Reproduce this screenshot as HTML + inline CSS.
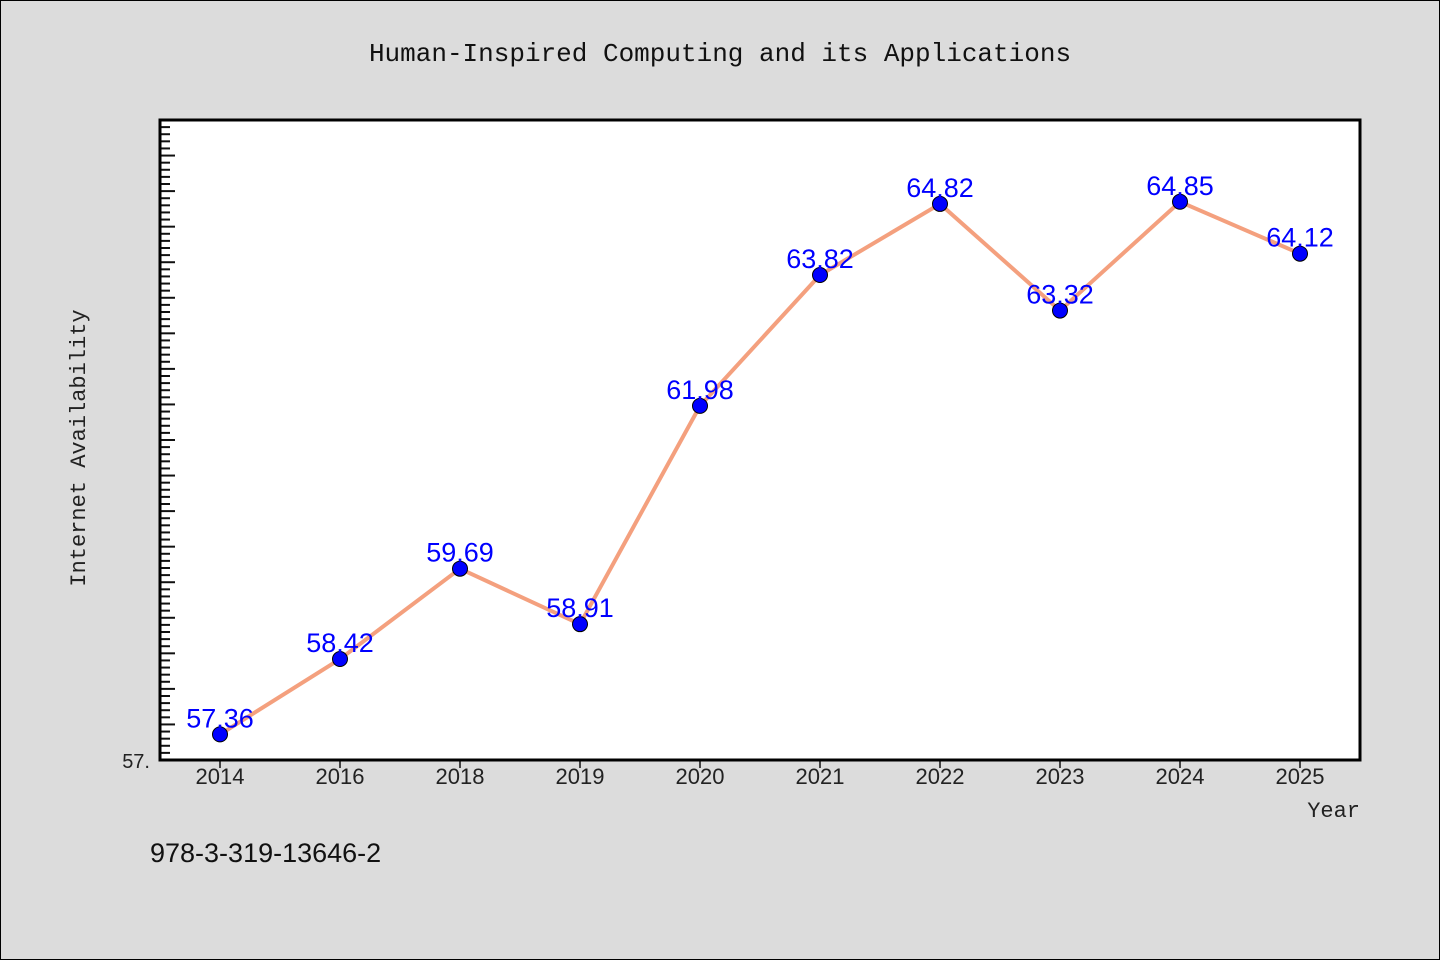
<!DOCTYPE html>
<html><head><meta charset="utf-8"><style>
html,body{margin:0;padding:0;background:#dcdcdc;}
svg{display:block;}
</style></head><body>
<svg id="chart" width="1440" height="960" xmlns="http://www.w3.org/2000/svg">
<rect x="0.5" y="0.5" width="1439" height="959" fill="#dcdcdc" stroke="#000"/>
<text x="720" y="61" text-anchor="middle" font-family="Liberation Mono, monospace" font-size="26" fill="#111">Human-Inspired Computing and its Applications</text>
<rect x="160" y="120" width="1200" height="640" fill="#fff"/>
<g id="yticks"></g>
<g id="xticks"></g>
<g id="series"></g>
<rect x="160" y="120" width="1200" height="640" fill="none" stroke="#000" stroke-width="3"/>
<text x="150" y="768" text-anchor="end" font-family="Liberation Sans, sans-serif" font-size="20" fill="#222">57.</text>
<text transform="translate(85,448) rotate(-90)" text-anchor="middle" font-family="Liberation Mono, monospace" font-size="22" fill="#222">Internet Availability</text>
<text x="1360" y="817" text-anchor="end" font-family="Liberation Mono, monospace" font-size="22" fill="#222">Year</text>
<text x="150" y="862" font-family="Liberation Sans, sans-serif" font-size="27" fill="#111">978-3-319-13646-2</text>
</svg>
<script>
const categories = ["2014","2016","2018","2019","2020","2021","2022","2023","2024","2025"];
const values = [57.36,58.42,59.69,58.91,61.98,63.82,64.82,63.32,64.85,64.12];
const valueLabels = ["57.36","58.42","59.69","58.91","61.98","63.82","64.82","63.32","64.85","64.12"];
const yMin = 57, yMax = 66;
const NS="http://www.w3.org/2000/svg";
const L=160,R=1360,T=120,B=760,pad=60;
function xPos(i){return L+pad+i*(R-L-2*pad)/(categories.length-1);}
function yPos(v){return B-(v-yMin)/(yMax-yMin)*(B-T);}
function mk(tag,attrs,parent){const e=document.createElementNS(NS,tag);for(const k in attrs)e.setAttribute(k,attrs[k]);parent.appendChild(e);return e;}
const yt=document.getElementById('yticks');
for(let k=1;k<Math.round((yMax-yMin)*10);k++){
  const v=yMin+k/10,y=yPos(v),major=k%5===0;
  const t=mk('line',{x1:L,x2:L+(major?15:10),y1:y,y2:y,stroke:'#111','stroke-width':2},yt);
  
  
}
const xt=document.getElementById('xticks');
categories.forEach((c,i)=>{
  const x=xPos(i);
  const t=mk('line',{x1:x,x2:x,y1:B,y2:B+8,stroke:'#111','stroke-width':1.5},xt);
  
  
  const lb=mk('text',{x:x,y:B+24,'text-anchor':'middle','font-family':'Liberation Sans, sans-serif','font-size':22,fill:'#222'},xt);
  lb.textContent=c;
  
  
});
const s=document.getElementById('series');
const pl=mk('polyline',{points:values.map((v,i)=>xPos(i)+','+yPos(v)).join(' '),fill:'none',stroke:'#f4a07e','stroke-width':4,'stroke-linejoin':'round'},s);


values.forEach((v,i)=>{
  const c=mk('circle',{cx:xPos(i),cy:yPos(v),r:7.5,fill:'#0000ff',stroke:'#000','stroke-width':1},s);
  
  
});
values.forEach((v,i)=>{
  const t=mk('text',{x:xPos(i),y:yPos(v)-7,'text-anchor':'middle','font-family':'Liberation Sans, sans-serif','font-size':27,fill:'#0000ff'},s);
  t.textContent=valueLabels[i];
  
  
});
</script>
</body></html>
